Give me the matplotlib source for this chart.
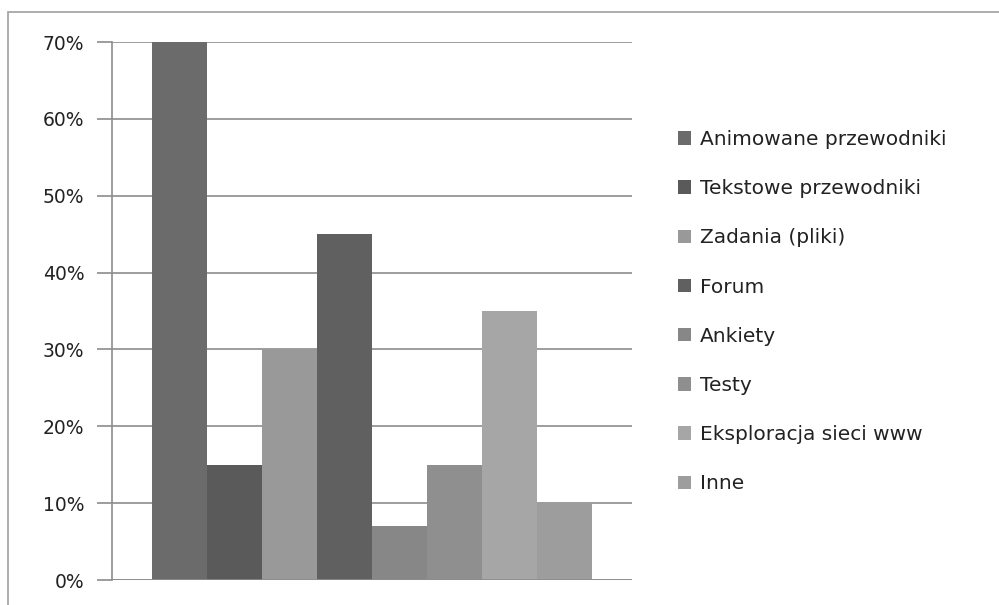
import matplotlib
matplotlib.use("Agg")
import matplotlib.pyplot as plt
from matplotlib.patches import Rectangle
from matplotlib.ticker import FuncFormatter

categories = [
    "Animowane przewodniki",
    "Tekstowe przewodniki",
    "Zadania (pliki)",
    "Forum",
    "Ankiety",
    "Testy",
    "Eksploracja sieci www",
    "Inne",
]
values = [70, 15, 30, 45, 7, 15, 35, 10]
colors = ["#6b6b6b", "#5a5a5a", "#999999", "#606060",
          "#878787", "#8f8f8f", "#a6a6a6", "#9d9d9d"]
y_ticks = [0, 10, 20, 30, 40, 50, 60, 70]

W, H = 999, 605
fig = plt.figure(figsize=(W / 100, H / 100), dpi=100)
plt.rcParams["font.family"] = "DejaVu Sans"

# outer frame (only left and top edges are visible)
fig.add_artist(Rectangle((8 / W, -0.05), 1.1, 1.05 - 12 / H,
                         transform=fig.transFigure, fill=False,
                         edgecolor="#a0a0a0", linewidth=1.2))

ax = fig.add_axes([112 / W, (H - 580) / H, 520 / W, (580 - 42) / H])

bar_w = 55
start = 152
handles = []
for i, (cat, v, c) in enumerate(zip(categories, values, colors)):
    b = ax.bar(start + i * bar_w, v, width=bar_w, align="edge",
               color=c, label=cat, zorder=3)
    handles.append(b)

ax.set_xlim(112, 632)
ax.set_ylim(0, 70)
ax.set_yticks(y_ticks)
ax.yaxis.set_major_formatter(FuncFormatter(lambda v, p: f"{int(v)}%"))
ax.set_xticks([])
ax.grid(axis="y", color="#8c8c8c", linewidth=1.2, zorder=0)
for s in ["top", "right", "bottom"]:
    ax.spines[s].set_visible(False)
ax.spines["left"].set_color("#8c8c8c")
ax.spines["left"].set_linewidth(1.2)
ax.tick_params(axis="y", length=11, color="#8c8c8c", width=1.2,
               labelsize=13.5, labelcolor="#222222", pad=9)
ax.axhline(0, color="#8c8c8c", linewidth=1.2, zorder=4)

fig.legend(handles=handles, labels=categories, loc="upper left",
           bbox_to_anchor=(678 / W, (H - 130) / H), frameon=False,
           fontsize=14.5, handlelength=0.65, handleheight=0.65,
           handletextpad=0.45, labelspacing=1.5, borderpad=0,
           borderaxespad=0, labelcolor="#222222")

fig.savefig("out.png", dpi=100)
